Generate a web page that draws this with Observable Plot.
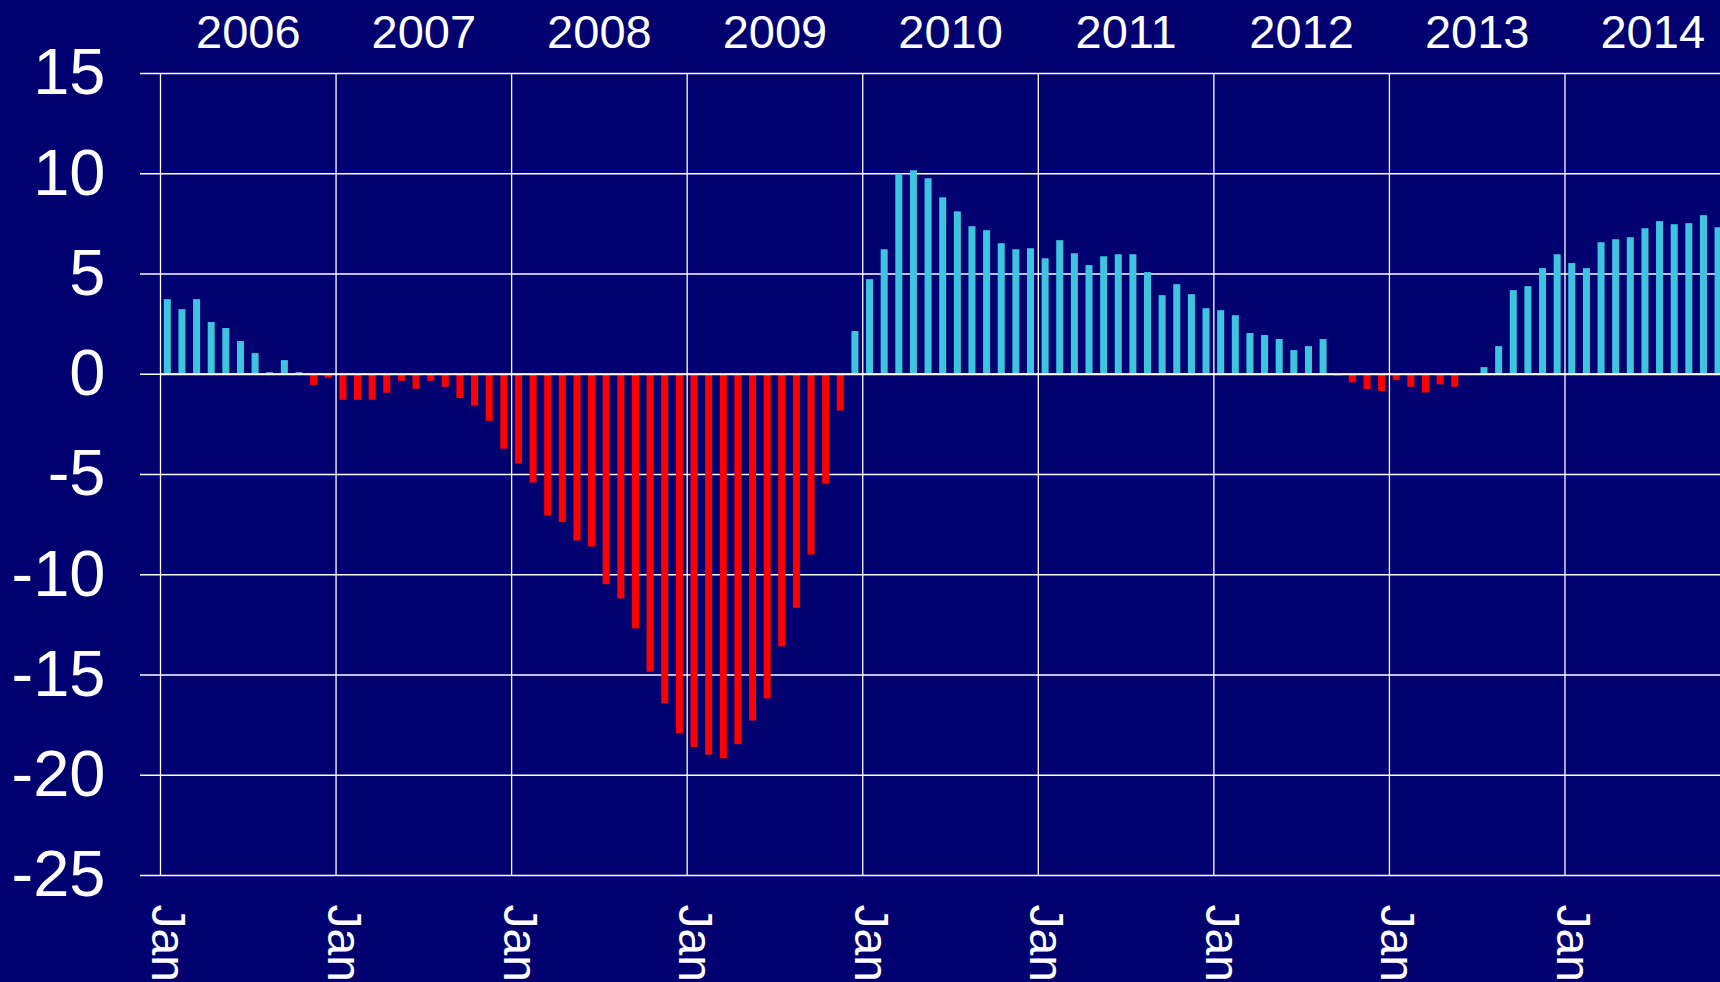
<!DOCTYPE html>
<html><head><meta charset="utf-8">
<script src="https://cdn.jsdelivr.net/npm/d3@7"></script>
<script src="https://cdn.jsdelivr.net/npm/@observablehq/plot@0.6"></script>
<style>
html,body{margin:0;padding:0;background:#000070;overflow:hidden;}
</style></head><body><div id="chart"></div>
<script>
// Categories
const years = [2006, 2007, 2008, 2009, 2010, 2011, 2012, 2013, 2014];
const monthLabel = "Jan";
const yTicks = [-25, -20, -15, -10, -5, 0, 5, 10, 15];

// Monthly values per year (Jan..Dec)
const v2006 = [3.72, 3.22, 3.72, 2.58, 2.28, 1.63, 1.03, 0.08, 0.68, 0.08, -0.56, -0.2];
const v2007 = [-1.3, -1.3, -1.3, -0.95, -0.36, -0.75, -0.36, -0.65, -1.21, -1.59, -2.35, -3.74];
const v2008 = [-4.48, -5.43, -7.07, -7.39, -8.32, -8.62, -10.5, -11.21, -12.7, -14.86, -16.44, -17.94];
const v2009 = [-18.62, -19.0, -19.18, -18.48, -17.3, -16.19, -13.6, -11.67, -9.02, -5.48, -1.84, 2.13];
const v2010 = [4.72, 6.21, 9.97, 10.15, 9.75, 8.8, 8.1, 7.36, 7.16, 6.51, 6.21, 6.26];
const v2011 = [5.76, 6.66, 6.01, 5.42, 5.86, 5.96, 5.96, 5.07, 3.92, 4.47, 3.97, 3.27];
const v2012 = [3.17, 2.92, 2.03, 1.93, 1.73, 1.18, 1.38, 1.73, -0.1, -0.43, -0.76, -0.86];
const v2013 = [-0.31, -0.65, -0.94, -0.53, -0.65, 0, 0.33, 1.38, 4.17, 4.37, 5.27, 5.96];
const v2014 = [5.52, 5.27, 6.56, 6.71, 6.81, 7.26, 7.61, 7.46, 7.51, 7.91, 7.31];

const series = [v2006, v2007, v2008, v2009, v2010, v2011, v2012, v2013, v2014];
const rows = [];
series.forEach((vals, yi) => vals.forEach((v, m) => rows.push({idx: yi * 12 + m, value: v})));
const janRows = years.map((y, i) => ({idx: i * 12, year: y}));

const NAVY = "#000070", CYAN = "#3EC3E0", RED = "#FF0000";

const plot = Plot.plot({
  width: 1720,
  height: 982,
  marginLeft: 160,
  marginRight: 0,
  marginTop: 73,
  marginBottom: 107,
  style: {background: NAVY, color: "white", fontFamily: "'Liberation Sans', Arial, sans-serif"},
  x: {type: "linear", domain: [0, 106.63], axis: null},
  y: {domain: [-25, 15]},
  marks: [
    Plot.ruleY(yTicks, {stroke: "white", strokeWidth: 1.5}),
    Plot.ruleX(janRows, {x: "idx", stroke: "white", strokeWidth: 1.3}),
    Plot.rectY(rows, {filter: d => d.value >= 0, x1: "idx", x2: d => d.idx + 1, y: "value",
      insetLeft: 3.8, insetRight: 3.8, fill: CYAN}),
    Plot.rectY(rows, {filter: d => d.value < 0, x1: "idx", x2: d => d.idx + 1, y: "value",
      insetLeft: 3.8, insetRight: 3.8, fill: RED}),
    Plot.ruleY([0], {stroke: "white", strokeWidth: 2}),
    Plot.axisY({ticks: yTicks, tickFormat: d => String(d), tickSize: 20, tickPadding: 35,
      fontSize: 65, label: null, stroke: "white", strokeWidth: 1.5}),
    Plot.text(janRows, {x: d => d.idx + 0.5, frameAnchor: "bottom", dy: 29, rotate: 90,
      text: () => monthLabel, textAnchor: "start", lineAnchor: "middle", fontSize: 48, fill: "white"}),
    Plot.text(janRows, {x: d => d.idx + 6, frameAnchor: "top", dy: -41, text: d => String(d.year),
      lineAnchor: "middle", fontSize: 47, fill: "white"})
  ]
});
document.getElementById("chart").appendChild(plot);
</script>
</body></html>
